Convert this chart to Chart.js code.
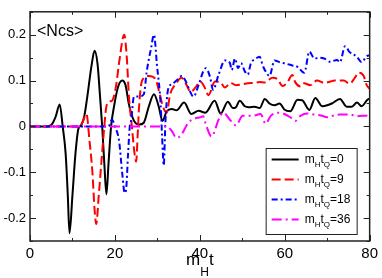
<!DOCTYPE html>
<html>
<head>
<meta charset="utf-8">
<script src="https://cdn.jsdelivr.net/npm/chart.js@4.4.1/dist/chart.umd.min.js"></script>
<style>
html, body { margin: 0; padding: 0; background: #fff; }
</style>
</head>
<body>
<canvas id="ncsChart" width="382" height="278"></canvas>
<script>
// <Ncs> vs m_H t, one curve per quench time m_H t_Q
const seriesNames = ["0", "9", "18", "36"];

const tQ0 = [0, 4, 5.1, 6, 7, 7.7, 8.4, 8.9, 9.3, 10, 10.7, 11.4, 12, 12.8, 13.5, 14.5, 15.2, 15.9, 16.5, 17, 17.5, 18, 18.5, 19.1, 19.8, 20.7, 21.7, 22.5, 23.3, 24.5, 25.7, 26.8, 28, 29.2, 30.3, 31.2, 32.2, 33.4, 34.5, 36.3, 38, 39.7, 41.3, 43.5, 44.9, 46.6, 47.8, 48.5, 49.4, 50.6, 51.5, 52.9, 54.1, 55.3, 56.4, 57.6, 58.8, 59.9, 61.3, 63, 64.1, 65.8, 67.2, 68.8, 70, 71.1, 73, 74.6, 75.8, 77, 78.1, 79.8, 80];
const nQ0 = [0, 0, 0.004, 0.02, 0.048, 0, -0.06, -0.15, -0.233, -0.15, -0.06, -0.005, 0.002, 0.023, 0.065, 0.133, 0.165, 0.137, 0.065, 0, -0.08, -0.148, -0.08, 0, 0.044, 0.085, 0.1, 0.09, 0.048, 0.012, 0.004, 0.008, 0.044, 0.07, 0.044, 0.012, 0.033, 0.038, 0.035, 0.052, 0.027, 0.034, 0.03, 0.056, 0.028, 0.054, 0.04, 0.042, 0.056, 0.044, 0.042, 0.043, 0.04, 0.06, 0.05, 0.046, 0.05, 0.037, 0.033, 0.058, 0.057, 0.036, 0.062, 0.044, 0.046, 0.05, 0.06, 0.043, 0.043, 0.052, 0.044, 0.06, 0.06];

const tQ9 = [0, 11.7, 12.5, 13.3, 14, 14.7, 15.2, 15.6, 16.2, 16.8, 17.5, 18, 18.7, 19.4, 20.3, 21, 22.2, 22.8, 23.3, 24, 24.5, 25, 25.4, 25.7, 26.4, 28, 29.6, 30.3, 31.3, 32.2, 33, 34.3, 35.7, 36.9, 37.8, 39, 40.1, 41.3, 42, 43.6, 44.8, 45.9, 47.3, 48.5, 50.1, 51.3, 52.9, 54.1, 55.3, 56, 57.1, 58.3, 59.5, 60.6, 61.8, 62.5, 63.7, 64.6, 66, 67.6, 69.3, 70.4, 71.8, 73.9, 75.3, 76.5, 77.4, 78.6, 79.3, 80];
const nQ9 = [0, 0, 0.012, 0.027, -0.03, -0.1, -0.18, -0.213, -0.15, -0.08, 0, 0.044, 0.054, 0.057, 0.09, 0.14, 0.2, 0.15, 0.065, 0, -0.05, -0.077, -0.01, 0.044, 0.1, 0.11, 0.103, 0.08, 0.044, 0.03, 0.07, 0.092, 0.106, 0.09, 0.075, 0.085, 0.098, 0.082, 0.068, 0.098, 0.097, 0.085, 0.095, 0.09, 0.092, 0.094, 0.095, 0.097, 0.096, 0.1, 0.106, 0.103, 0.088, 0.096, 0.112, 0.096, 0.087, 0.094, 0.09, 0.1, 0.095, 0.097, 0.1, 0.1, 0.093, 0.106, 0.117, 0.11, 0.09, 0.082];

const tQ18 = [0, 18.5, 19.3, 20, 21, 21.7, 22.3, 22.6, 23.1, 23.5, 23.8, 24.5, 25.7, 26.8, 27.5, 28.5, 29.2, 29.9, 30.8, 31.1, 31.5, 31.9, 32.5, 33.4, 34.5, 35.7, 36.6, 37.3, 38.5, 39.7, 40.8, 41.4, 42.4, 43.1, 44.5, 45.9, 47.1, 47.5, 48.3, 49, 49.7, 50.6, 51.3, 52, 53.2, 54.1, 54.8, 55.5, 56.4, 57.6, 58.8, 60.2, 61.8, 63, 64.6, 65.8, 67, 68.1, 69.3, 70.7, 72.3, 73, 74.2, 75.3, 77, 78.1, 79.3, 80];
const nQ18 = [0, 0, 0.015, 0, -0.033, -0.1, -0.145, -0.14, -0.06, 0, 0.012, 0.065, 0.065, 0.07, 0.12, 0.17, 0.2, 0.134, 0.044, -0.02, -0.085, 0.01, 0.08, 0.092, 0.1, 0.11, 0.1, 0.085, 0.065, 0.09, 0.12, 0.127, 0.108, 0.08, 0.115, 0.144, 0.138, 0.123, 0.148, 0.127, 0.138, 0.12, 0.113, 0.137, 0.148, 0.152, 0.133, 0.12, 0.11, 0.144, 0.14, 0.137, 0.133, 0.13, 0.117, 0.163, 0.148, 0.15, 0.148, 0.141, 0.145, 0.14, 0.175, 0.162, 0.152, 0.14, 0.153, 0.155];

const tQ36 = [0, 32.2, 33.4, 34.5, 35.5, 37.3, 38.5, 40.1, 40.8, 41.3, 42.2, 42.7, 43.3, 44.3, 45.5, 47.3, 48.5, 50.1, 51.3, 52.9, 54.3, 55.5, 56.7, 58.3, 59.9, 61.3, 62.5, 63.7, 65.3, 66.9, 68.5, 70, 71.6, 73, 75.3, 77, 79.8, 80];
const nQ36 = [0, 0, -0.01, -0.025, -0.02, 0.008, 0.016, 0.02, 0.022, 0.008, -0.015, -0.022, -0.015, 0.012, 0.03, 0.012, 0.002, 0.023, 0.023, 0.024, 0.027, 0.006, 0.023, 0.03, 0.027, 0.02, 0.012, 0.023, 0.028, 0.026, 0.024, 0.02, 0.024, 0.026, 0.026, 0.022, 0.024, 0.024];

const xTicks = [0, 20, 40, 60, 80];
const yTicks = [-0.2, -0.1, 0, 0.1, 0.2];

const colors = ["#000000", "#ff0000", "#0000ff", "#ff00ff"];
const dashes = [[], [9, 4], [6, 3, 2, 3], [10, 4, 2, 4]];
const fontFam = "'Liberation Sans', Arial, sans-serif";

function pts(ts, ys) {
    return ts.map((t, i) => ({ x: t, y: ys[i] }));
}

const allT = [tQ0, tQ9, tQ18, tQ36];
const allN = [nQ0, nQ9, nQ18, nQ36];

// later curves drawn on top (magenta last)
const datasets = seriesNames.map((name, i) => ({
    label: "mHtQ=" + name,
    data: pts(allT[i], allN[i]),
    order: seriesNames.length - 1 - i,
    borderColor: colors[i],
    borderWidth: 2,
    borderDash: dashes[i],
    pointRadius: 0,
    cubicInterpolationMode: "monotone",
    fill: false
}));

// text with subscripts: parts = [[text, isSub], ...]
function subText(ctx, x, y, parts, big, small, drop) {
    ctx.textBaseline = "alphabetic";
    ctx.textAlign = "left";
    for (const [s, isSub] of parts) {
        ctx.font = (isSub ? small : big) + "px " + fontFam;
        ctx.fillText(s, x, isSub ? y + drop : y);
        x += ctx.measureText(s).width;
    }
    return x;
}
function subWidth(ctx, parts, big, small) {
    let w = 0;
    for (const [s, isSub] of parts) {
        ctx.font = (isSub ? small : big) + "px " + fontFam;
        w += ctx.measureText(s).width;
    }
    return w;
}

const framePlugin = {
    id: "frame",
    afterDraw(chart) {
        const ctx = chart.ctx;
        const a = chart.chartArea;
        const xs = chart.scales.x, ys = chart.scales.y;
        ctx.save();
        ctx.strokeStyle = "#222";
        ctx.lineWidth = 1.5;
        ctx.strokeRect(a.left, a.top, a.right - a.left, a.bottom - a.top);
        ctx.lineWidth = 1;
        ctx.beginPath();
        for (let v = 0; v <= 80; v += 10) {
            const px = Math.round(xs.getPixelForValue(v)) + 0.5;
            const len = v % 20 === 0 ? 6 : 3;
            ctx.moveTo(px, a.bottom); ctx.lineTo(px, a.bottom - len);
            ctx.moveTo(px, a.top); ctx.lineTo(px, a.top + len);
        }
        for (let k = -5; k <= 5; k++) {
            const py = Math.round(ys.getPixelForValue(k * 0.05)) + 0.5;
            const len = k % 2 === 0 ? 6 : 3;
            ctx.moveTo(a.left, py); ctx.lineTo(a.left + len, py);
            ctx.moveTo(a.right, py); ctx.lineTo(a.right - len, py);
        }
        ctx.stroke();

        ctx.fillStyle = "#000";
        // <Ncs> label
        ctx.font = "16px " + fontFam;
        ctx.textBaseline = "alphabetic";
        ctx.fillText("<Ncs>", a.left + 7, a.top + 24);

        // x axis title m_H t
        const title = [["m", false], ["H", true], ["t", false]];
        const tw = subWidth(ctx, title, 17, 12);
        subText(ctx, (a.left + a.right) / 2 - tw / 2, 265, title, 17, 12, 11);

        // legend box
        const bx = a.right - 104, by = a.bottom - 93, bw = 91, bh = 86;
        ctx.fillStyle = "#fff";
        ctx.fillRect(bx, by, bw, bh);
        ctx.strokeStyle = "#222";
        ctx.lineWidth = 1;
        ctx.setLineDash([]);
        ctx.strokeRect(bx + 0.5, by + 0.5, bw, bh);
        seriesNames.forEach((name, i) => {
            const ry = by + 11.5 + i * 20;
            ctx.strokeStyle = colors[i];
            ctx.lineWidth = 2;
            ctx.setLineDash(dashes[i]);
            ctx.beginPath();
            ctx.moveTo(bx + 6, ry);
            ctx.lineTo(bx + 33, ry);
            ctx.stroke();
            ctx.setLineDash([]);
            ctx.fillStyle = "#000";
            subText(ctx, bx + 39, ry + 3, [["m", false], ["H", true], ["t", false], ["Q", true], ["=" + name, false]], 12, 8, 4);
        });
        ctx.restore();
    }
};

new Chart(document.getElementById("ncsChart"), {
    type: "line",
    data: { datasets: datasets },
    options: {
        responsive: false,
        animation: false,
        layout: { padding: { top: 1, right: 9, left: 0, bottom: 0 } },
        plugins: { legend: { display: false }, tooltip: { enabled: false } },
        scales: {
            x: {
                type: "linear",
                min: 0,
                max: 80,
                afterBuildTicks(s) { s.ticks = xTicks.map(v => ({ value: v })); },
                afterFit(s) { s.height = 37; },
                grid: { display: false, drawTicks: false },
                border: { display: false },
                ticks: { padding: 4, color: "#000", font: { family: fontFam, size: 15 } }
            },
            y: {
                min: -0.25,
                max: 0.25,
                afterBuildTicks(s) { s.ticks = yTicks.map(v => ({ value: v })); },
                afterFit(s) { s.width = 30; },
                grid: { display: false, drawTicks: false },
                border: { display: false },
                ticks: {
                    padding: 4,
                    color: "#000",
                    font: { family: fontFam, size: 13 },
                    callback: v => (Math.abs(v) < 1e-9 ? "0" : String(Math.round(v * 10) / 10))
                }
            }
        }
    },
    plugins: [framePlugin]
});
</script>
</body>
</html>
